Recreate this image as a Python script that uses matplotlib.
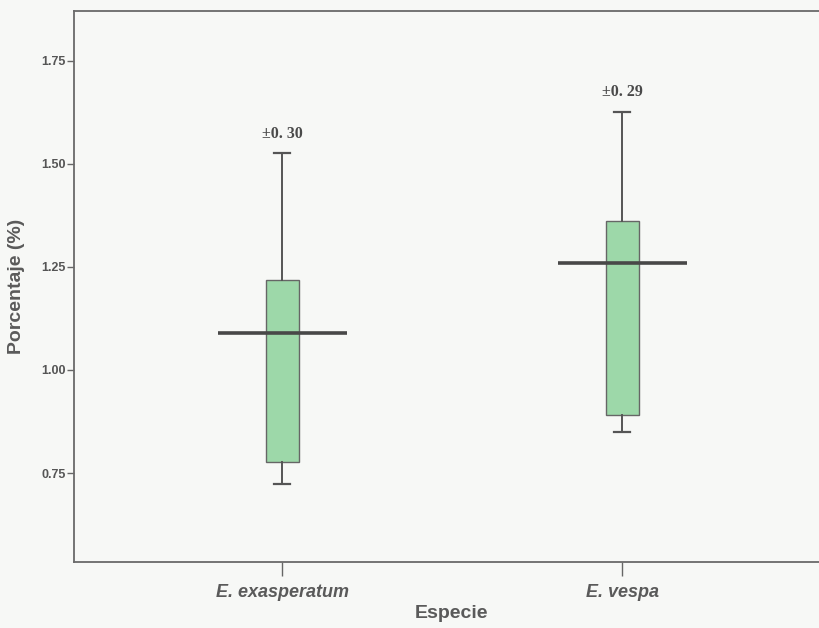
import matplotlib
matplotlib.use('Agg')
import matplotlib.pyplot as plt

# Summary values per species
species = ['E. exasperatum', 'E. vespa']
q1 = [0.778, 0.892]
q3 = [1.218, 1.362]
whisker_low = [0.724, 0.850]
whisker_high = [1.527, 1.627]
means = [1.090, 1.259]
sd_labels = ['\u00b10. 30', '\u00b10. 29']
yticks = [0.75, 1.00, 1.25, 1.50, 1.75]

bg = '#f7f8f6'
ink = '#555555'

fig = plt.figure(figsize=(8.19, 6.28), dpi=100, facecolor=bg)
ax = fig.add_axes([0.0904, 0.1056, 0.9096, 0.877], facecolor=bg)

positions = list(range(len(species)))

# Build the stats dicts for bxp
stats = []
for i in positions:
    stats.append({
        'med': means[i],
        'q1': q1[i],
        'q3': q3[i],
        'whislo': whisker_low[i],
        'whishi': whisker_high[i],
        'fliers': [],
    })

ax.bxp(stats, positions=positions, widths=0.097, patch_artist=True,
       showfliers=False,
       boxprops=dict(facecolor='#9dd8a9', edgecolor='#666666', linewidth=1.0),
       whiskerprops=dict(color='#555555', linewidth=1.4),
       capprops=dict(color='#555555', linewidth=1.6),
       medianprops=dict(linewidth=0))

# Long mean line across each box
for i in positions:
    ax.hlines(means[i], i - 0.19, i + 0.19, color='#484848', linewidth=2.6, zorder=5)

# SD text above each upper whisker
for i in positions:
    ax.annotate(sd_labels[i], xy=(i, whisker_high[i]), xytext=(0, 8),
                textcoords='offset points', ha='center', va='bottom',
                fontsize=11.5, fontweight='bold', family='Liberation Serif',
                color='#4a4a4a')

ax.set_xlim(-0.612, 1.579)
ax.set_ylim(0.535, 1.871)

ax.set_yticks(yticks)
ax.set_yticklabels(['%.2f' % v for v in yticks])
ax.set_xticks(positions)
ax.set_xticklabels(species)

for lab in ax.get_yticklabels():
    lab.set_fontsize(9)
    lab.set_fontweight('bold')
    lab.set_family('Liberation Sans')
    lab.set_color(ink)
for lab in ax.get_xticklabels():
    lab.set_fontsize(13)
    lab.set_fontstyle('italic')
    lab.set_fontweight('bold')
    lab.set_family('Liberation Sans')
    lab.set_color('#5a5a5a')

ax.tick_params(axis='y', length=5, width=1, color='#666666', pad=1)
ax.tick_params(axis='x', length=10, width=1, color='#666666', pad=6)

ax.spines['right'].set_visible(False)
for s in ['left', 'top', 'bottom']:
    ax.spines[s].set_color('#6a6a6a')
    ax.spines[s].set_linewidth(1.3)

ax.set_xlabel('Especie', fontsize=14, fontweight='bold', family='Liberation Sans',
              color='#5a5a5a')
ax.xaxis.set_label_coords(0.507, -0.079)
ax.set_ylabel('Porcentaje (%)', fontsize=14, fontweight='bold', family='Liberation Sans',
              color='#5a5a5a')
ax.yaxis.set_label_coords(-0.066, 0.5)

fig.savefig('out.png', dpi=100, facecolor=bg)
